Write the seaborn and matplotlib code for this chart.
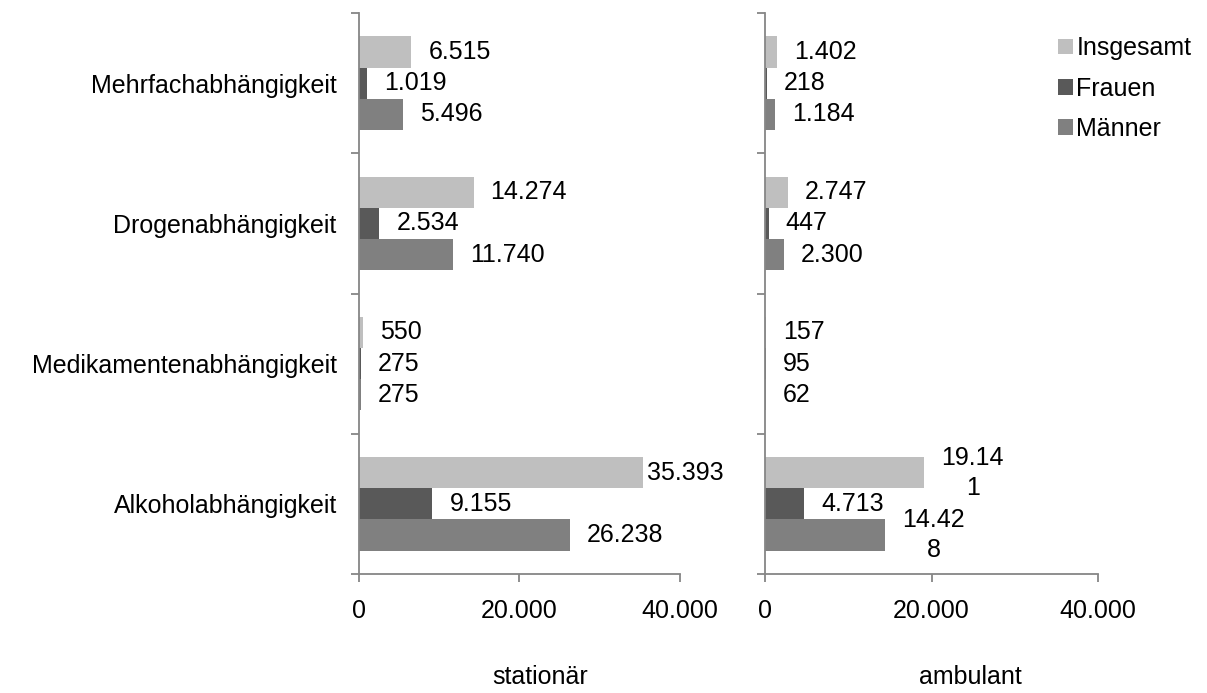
import pandas as pd
import matplotlib.pyplot as plt
import seaborn as sns
from matplotlib.patches import Patch

# Daten
kategorien = ["Mehrfachabhängigkeit", "Drogenabhängigkeit",
              "Medikamentenabhängigkeit", "Alkoholabhängigkeit"]
gruppen = ["Insgesamt", "Frauen", "Männer"]

stationaer_insgesamt = [6515, 14274, 550, 35393]
stationaer_frauen = [1019, 2534, 275, 9155]
stationaer_maenner = [5496, 11740, 275, 26238]

ambulant_insgesamt = [1402, 2747, 157, 19141]
ambulant_frauen = [218, 447, 95, 4713]
ambulant_maenner = [1184, 2300, 62, 14428]

x_ticks = [0, 20000, 40000]

farben = {"Insgesamt": "#BFBFBF", "Frauen": "#595959", "Männer": "#808080"}
achsen_grau = "#868686"


def make_df(ins, fr, ma):
    rows = []
    for i, k in enumerate(kategorien):
        rows.append((k, "Insgesamt", ins[i]))
        rows.append((k, "Frauen", fr[i]))
        rows.append((k, "Männer", ma[i]))
    return pd.DataFrame(rows, columns=["Kategorie", "Gruppe", "Wert"])


def fmt(v):
    return f"{v:,}".replace(",", ".")


sns.set_theme(style="white")
plt.rcParams["font.family"] = ["Liberation Sans", "DejaVu Sans"]
plt.rcParams["text.color"] = "black"
plt.rcParams["axes.labelcolor"] = "black"
plt.rcParams["xtick.labelcolor"] = "black"
plt.rcParams["ytick.labelcolor"] = "black"
FS = 18

fig = plt.figure(figsize=(12.07, 6.93), dpi=100)
ax1 = fig.add_axes([0.2974, 0.1717, 0.266, 0.8095])
ax2 = fig.add_axes([0.6338, 0.1717, 0.2759, 0.8095])

panels = [
    (ax1, make_df(stationaer_insgesamt, stationaer_frauen, stationaer_maenner), "stationär", 0.564, False),
    (ax2, make_df(ambulant_insgesamt, ambulant_frauen, ambulant_maenner), "ambulant", 0.616, True),
]

for ax, df, titel, xlab_pos, umbruch in panels:
    sns.barplot(data=df, y="Kategorie", x="Wert", hue="Gruppe", order=kategorien,
                hue_order=gruppen, palette=farben, width=0.667, gap=0,
                linewidth=0, saturation=1, legend=False, ax=ax)
    ax.set_xlim(0, 40000)
    ax.set_ylim(3.5, -0.5)

    # Datenbeschriftungen
    for cont, g in zip(ax.containers, gruppen):
        for bar in cont:
            v = int(round(bar.get_width()))
            txt = fmt(v)
            if umbruch and len(txt) > 5:
                txt = txt[:5] + "\n" + txt[5:]
            off = 4 if v / 40000 > 0.85 else 17
            ax.annotate(txt, (bar.get_width(), bar.get_y() + bar.get_height() / 2),
                        xytext=(off, 0), textcoords="offset pixels",
                        ha="left", va="center", multialignment="center",
                        linespacing=1.3, fontsize=FS, color="black",
                        annotation_clip=False)

    # Achsen
    for s in ["top", "right"]:
        ax.spines[s].set_visible(False)
    for s in ["left", "bottom"]:
        ax.spines[s].set_color(achsen_grau)
        ax.spines[s].set_linewidth(1.3)

    ax.set_xticks(x_ticks)
    ax.set_xticklabels([fmt(t) for t in x_ticks], fontsize=FS)
    ax.tick_params(axis="x", direction="out", length=6, width=1.3,
                   color=achsen_grau, pad=12, bottom=True)

    ax.set_yticks([-0.5, 0.5, 1.5, 2.5, 3.5])
    ax.set_yticklabels([])
    ax.tick_params(axis="y", which="major", direction="out", length=6,
                   width=1.3, color=achsen_grau, left=True)
    ax.set_yticks(range(len(kategorien)), minor=True)
    if ax is ax1:
        ax.set_yticklabels(kategorien, minor=True, fontsize=FS)
    else:
        ax.set_yticklabels([], minor=True)
    ax.tick_params(axis="y", which="minor", length=0, pad=16)

    ax.set_ylabel("")
    ax.set_xlabel(titel, fontsize=FS)
    ax.xaxis.set_label_coords(xlab_pos, -0.163)
    ax.grid(False)

handles = [Patch(facecolor=farben[g], edgecolor="none") for g in gruppen]
fig.legend(handles, gruppen, loc="upper left", bbox_to_anchor=(0.868, 0.962),
           frameon=False, fontsize=FS, handlelength=0.6, handleheight=0.6,
           handletextpad=0.15, labelspacing=0.65, borderaxespad=0)

fig.savefig("out.png", dpi=100)
